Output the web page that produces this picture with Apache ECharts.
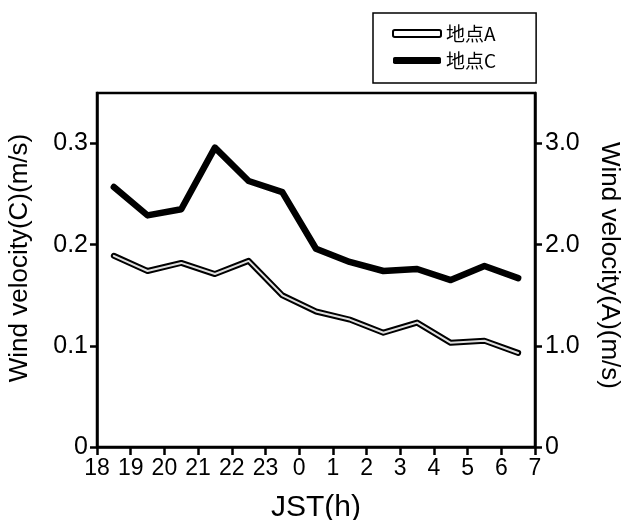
<!DOCTYPE html>
<html>
<head>
<meta charset="utf-8">
<script src="https://cdn.jsdelivr.net/npm/echarts@6/dist/echarts.min.js"></script>
<style>html,body{margin:0;padding:0;background:#fff}#c{width:623px;height:520px}</style>
</head>
<body>
<div id="c"></div>
<script>
var hours = [18.5,19.5,20.5,21.5,22.5,23.5,24.5,25.5,26.5,27.5,28.5,29.5,30.5];
var windC = [0.257,0.229,0.235,0.296,0.263,0.252,0.196,0.183,0.174,0.176,0.165,0.179,0.167];
var windA = [1.89,1.74,1.82,1.71,1.84,1.50,1.34,1.26,1.13,1.23,1.03,1.05,0.93];
var leftTicks = [0,0.1,0.2,0.3];
var rightTicks = [0,1,2,3];
var leftLabels = ['0','0.1','0.2','0.3'];
var rightLabels = ['0','1.0','2.0','3.0'];

function pairs(xs, ys){ return xs.map(function(x,i){ return [x, ys[i]]; }); }
var font = 'Liberation Sans, Arial, sans-serif';
var chart = echarts.init(document.getElementById('c'));
chart.setOption({
  animation:false,
  backgroundColor:'#fff',
  grid:{left:97,right:88,top:93,bottom:73,show:true,borderColor:'#000',borderWidth:2.5,backgroundColor:'transparent',
    containLabel:false, outerBoundsMode:'none'},
  legend:{
    orient:'vertical', left:373, top:13,
    padding:[11,40,13,19], itemGap:8,
    borderColor:'#000', borderWidth:1.5,
    itemWidth:48, itemHeight:7,
    textStyle:{fontFamily:'Noto Sans CJK JP, sans-serif', fontSize:19, color:'#000'},
    data:[
      {name:'地点A', icon:'roundRect', itemStyle:{color:'#fff', borderColor:'#000', borderWidth:2}},
      {name:'地点C', icon:'roundRect', itemStyle:{color:'#000', borderWidth:0}}
    ]
  },
  xAxis:{
    type:'value', min:18, max:31, interval:1,
    name:'JST(h)', nameLocation:'middle', nameGap:46,
    nameTextStyle:{fontFamily:font, fontSize:30, color:'#000'},
    axisLine:{lineStyle:{color:'#000', width:2.5}},
    axisTick:{show:true, length:8, lineStyle:{color:'#000', width:2.5}},
    axisLabel:{fontFamily:font, fontSize:23, color:'#000', margin:10,
      formatter:function(v){ return String(Math.round(v)%24); }},
    splitLine:{show:false}
  },
  yAxis:[{
    type:'value', min:0, max:0.35, position:'left',
    name:'Wind velocity(C)(m/s)', nameLocation:'middle', nameGap:64, nameRotate:90,
    nameTextStyle:{fontFamily:font, fontSize:26, color:'#000', padding:[0,0,0,24]},
    axisLine:{show:true, lineStyle:{color:'#000', width:2.5}},
    axisTick:{show:true, length:7, customValues:leftTicks, lineStyle:{color:'#000', width:2.5}},
    axisLabel:{fontFamily:font, fontSize:25, color:'#000', margin:9, customValues:leftTicks,
      formatter:function(v){ var i = leftTicks.indexOf(Math.round(v*10)/10); return i>=0?leftLabels[i]:''; }},
    splitLine:{show:false}
  },{
    type:'value', min:0, max:3.5, position:'right',
    name:'Wind velocity(A)(m/s)', nameLocation:'middle', nameGap:61, nameRotate:-90,
    nameTextStyle:{fontFamily:font, fontSize:26, color:'#000', padding:[0,9,0,0]},
    axisLine:{show:true, lineStyle:{color:'#000', width:2.5}},
    axisTick:{show:true, length:7, customValues:rightTicks, lineStyle:{color:'#000', width:2.5}},
    axisLabel:{fontFamily:font, fontSize:25, color:'#000', margin:10, customValues:rightTicks,
      formatter:function(v){ var i = rightTicks.indexOf(Math.round(v)); return i>=0?rightLabels[i]:''; }},
    splitLine:{show:false}
  }],
  series:[
    {name:'地点A', type:'line', yAxisIndex:1, data:pairs(hours, windA), showSymbol:false, symbol:'none',
      lineStyle:{color:'#000', width:6, cap:'round', join:'round'}, itemStyle:{color:'#000'}},
    {name:'_A_inner', type:'line', yAxisIndex:1, data:pairs(hours, windA), showSymbol:false, symbol:'none',
      lineStyle:{color:'#e0e0e0', width:2, cap:'round', join:'round'}, itemStyle:{color:'#e0e0e0'}},
    {name:'地点C', type:'line', yAxisIndex:0, data:pairs(hours, windC), showSymbol:false, symbol:'none',
      lineStyle:{color:'#000', width:6.5, cap:'round', join:'round'}, itemStyle:{color:'#000'}}
  ]
});
</script>
</body>
</html>
